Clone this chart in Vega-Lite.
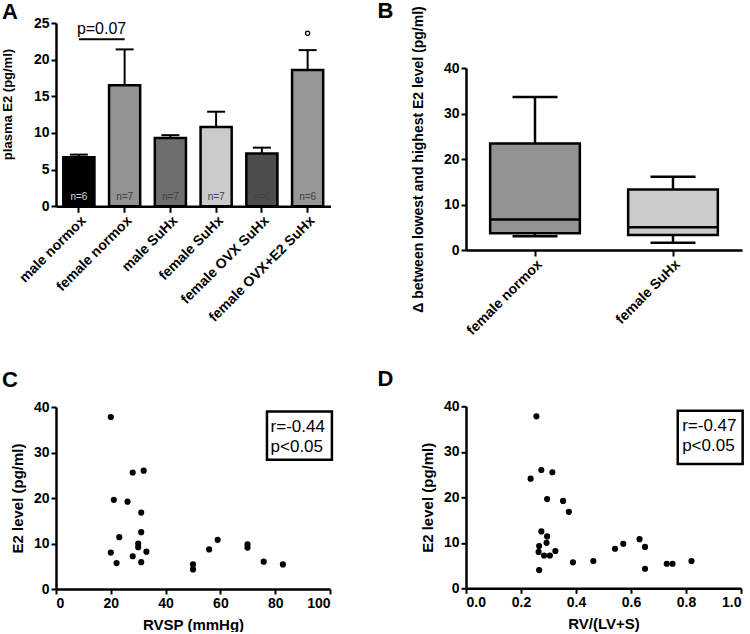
{
  "$schema": "https://vega.github.io/schema/vega-lite/v6.json",
  "background": "white",
  "padding": {"left": 1, "top": 0, "right": 0, "bottom": 0},
  "datasets": {
    "bars": [
      {"group": "male normox", "mean": 6.7, "upper": 7.05, "n": "n=6"},
      {"group": "female normox", "mean": 16.5, "upper": 21.4, "n": "n=7"},
      {"group": "male SuHx", "mean": 9.3, "upper": 9.7, "n": "n=7"},
      {"group": "female SuHx", "mean": 10.8, "upper": 12.9, "n": "n=7"},
      {"group": "female OVX SuHx", "mean": 7.2, "upper": 8.0, "n": "n=6"},
      {"group": "female OVX+E2 SuHx", "mean": 18.6, "upper": 21.3, "n": "n=6"}
    ],
    "bracketA": [
      {"group": "male normox", "end": "female normox", "y": 22.8, "label": "p=0.07"}
    ],
    "markA": [
      {"group": "female OVX+E2 SuHx", "y": 23.6}
    ],
    "boxes": [
      {"group": "female normox", "min": 3.0, "q1": 3.7, "median": 6.7, "q3": 23.4, "max": 33.6},
      {"group": "female SuHx", "min": 1.6, "q1": 3.3, "median": 5.0, "q3": 13.3, "max": 16.1}
    ],
    "corrC": [
      {"rvsp": 20.0, "e2": 37.8}, {"rvsp": 21.1, "e2": 19.6}, {"rvsp": 26.1, "e2": 19.2},
      {"rvsp": 28.0, "e2": 25.6}, {"rvsp": 32.0, "e2": 26.0}, {"rvsp": 31.1, "e2": 16.8},
      {"rvsp": 31.1, "e2": 12.5}, {"rvsp": 23.1, "e2": 11.4}, {"rvsp": 30.0, "e2": 10.0},
      {"rvsp": 30.0, "e2": 9.2}, {"rvsp": 20.0, "e2": 8.0}, {"rvsp": 28.0, "e2": 7.2},
      {"rvsp": 33.0, "e2": 8.2}, {"rvsp": 22.1, "e2": 5.7}, {"rvsp": 31.1, "e2": 5.9},
      {"rvsp": 50.0, "e2": 5.4}, {"rvsp": 50.0, "e2": 4.3}, {"rvsp": 55.9, "e2": 8.7},
      {"rvsp": 59.0, "e2": 10.8}, {"rvsp": 69.9, "e2": 9.8}, {"rvsp": 69.9, "e2": 9.1},
      {"rvsp": 75.8, "e2": 6.0}, {"rvsp": 82.8, "e2": 5.4}
    ],
    "corrD": [
      {"ratio": 0.256, "e2": 37.8}, {"ratio": 0.235, "e2": 24.1}, {"ratio": 0.274, "e2": 26.0},
      {"ratio": 0.314, "e2": 25.5}, {"ratio": 0.295, "e2": 19.6}, {"ratio": 0.353, "e2": 19.2},
      {"ratio": 0.374, "e2": 16.8}, {"ratio": 0.274, "e2": 12.5}, {"ratio": 0.295, "e2": 11.4},
      {"ratio": 0.266, "e2": 9.3}, {"ratio": 0.293, "e2": 10.0}, {"ratio": 0.264, "e2": 8.0},
      {"ratio": 0.284, "e2": 7.2}, {"ratio": 0.305, "e2": 7.2}, {"ratio": 0.325, "e2": 8.2},
      {"ratio": 0.266, "e2": 4.0}, {"ratio": 0.389, "e2": 5.7}, {"ratio": 0.463, "e2": 6.0},
      {"ratio": 0.542, "e2": 8.7}, {"ratio": 0.572, "e2": 9.8}, {"ratio": 0.631, "e2": 10.8},
      {"ratio": 0.651, "e2": 9.1}, {"ratio": 0.651, "e2": 4.3}, {"ratio": 0.730, "e2": 5.4},
      {"ratio": 0.751, "e2": 5.4}, {"ratio": 0.820, "e2": 6.0}
    ],
    "boxC": [{"x1": 77, "x2": 100.7, "y1": 28.4, "y2": 39.0}],
    "textC": [{"x": 78.3, "y": 34.5, "label": "r=-0.44"}, {"x": 78.3, "y": 30.1, "label": "p<0.05"}],
    "boxD": [{"x1": 0.770, "x2": 1.006, "y1": 27.3, "y2": 39.0}],
    "textD": [{"x": 0.786, "y": 34.5, "label": "r=-0.47"}, {"x": 0.786, "y": 30.1, "label": "p<0.05"}]
  },
  "bounds": "flush",
  "spacing": 410,
  "hconcat": [
    {
      "bounds": "flush",
      "spacing": 200,
      "vconcat": [
        {
          "width": 274.5,
          "height": 183.3,
          "title": {"text": "A", "dx": -54, "dy": 11.6},
          "encoding": {
            "x": {
              "field": "group",
              "type": "nominal",
              "scale": {
                "domain": ["male normox", "female normox", "male SuHx", "female SuHx", "female OVX SuHx", "female OVX+E2 SuHx"],
                "paddingInner": 0.32,
                "paddingOuter": 0.16
              },
              "axis": {"title": null, "labelAngle": -45, "tickSize": 6, "labelPadding": 1}
            }
          },
          "layer": [
            {
              "data": {"name": "bars"},
              "mark": {"type": "rule", "color": "black", "strokeWidth": 2},
              "encoding": {
                "y": {
                  "field": "mean",
                  "type": "quantitative",
                  "scale": {"domain": [0, 25], "nice": false},
                  "axis": {"title": "plasma E2  (pg/ml)", "values": [0, 5, 10, 15, 20, 25], "titlePadding": 19, "titleY": 81}
                },
                "y2": {"field": "upper"}
              }
            },
            {
              "data": {"name": "bars"},
              "mark": {"type": "tick", "color": "black", "size": 18, "thickness": 2, "opacity": 1},
              "encoding": {
                "y": {
                  "field": "upper",
                  "type": "quantitative",
                  "axis": {"title": "plasma E2  (pg/ml)", "values": [0, 5, 10, 15, 20, 25], "titlePadding": 19, "titleY": 81}
                }
              }
            },
            {
              "data": {"name": "bars"},
              "mark": {"type": "bar", "stroke": "black", "strokeWidth": 2.5},
              "encoding": {
                "y": {
                  "field": "mean",
                  "type": "quantitative",
                  "axis": {"title": "plasma E2  (pg/ml)", "values": [0, 5, 10, 15, 20, 25], "titlePadding": 19, "titleY": 81}
                },
                "color": {
                  "field": "group",
                  "type": "nominal",
                  "scale": {
                    "domain": ["male normox", "female normox", "male SuHx", "female SuHx", "female OVX SuHx", "female OVX+E2 SuHx"],
                    "range": ["#000000", "#939393", "#6e6e6e", "#cbcbcb", "#4d4d4d", "#979797"]
                  },
                  "legend": null
                }
              }
            },
            {
              "data": {"name": "bars"},
              "mark": {"type": "text", "fontSize": 10, "baseline": "alphabetic", "dy": -6},
              "encoding": {
                "y": {
                  "datum": 0,
                  "type": "quantitative",
                  "axis": {"title": "plasma E2  (pg/ml)", "values": [0, 5, 10, 15, 20, 25], "titlePadding": 19, "titleY": 81}
                },
                "text": {"field": "n"},
                "color": {"condition": {"test": "datum.group === 'male normox'", "value": "#d9d9d9"}, "value": "#404040"}
              }
            },
            {
              "data": {"name": "bracketA"},
              "mark": {"type": "rule", "color": "black", "strokeWidth": 2},
              "encoding": {
                "x2": {"field": "end"},
                "y": {
                  "field": "y",
                  "type": "quantitative",
                  "axis": {"title": "plasma E2  (pg/ml)", "values": [0, 5, 10, 15, 20, 25], "titlePadding": 19, "titleY": 81}
                }
              }
            },
            {
              "data": {"name": "bracketA"},
              "mark": {"type": "text", "align": "left", "baseline": "alphabetic", "fontSize": 16, "dx": -2, "dy": -5, "color": "black"},
              "encoding": {
                "y": {
                  "field": "y",
                  "type": "quantitative",
                  "axis": {"title": "plasma E2  (pg/ml)", "values": [0, 5, 10, 15, 20, 25], "titlePadding": 19, "titleY": 81}
                },
                "text": {"field": "label"}
              }
            },
            {
              "data": {"name": "markA"},
              "mark": {"type": "point", "shape": "circle", "filled": false, "stroke": "black", "strokeWidth": 1.2, "size": 18, "opacity": 1},
              "encoding": {
                "y": {
                  "field": "y",
                  "type": "quantitative",
                  "axis": {"title": "plasma E2  (pg/ml)", "values": [0, 5, 10, 15, 20, 25], "titlePadding": 19, "titleY": 81}
                }
              }
            }
          ]
        },
        {
          "width": 274,
          "height": 182,
          "title": {"text": "C", "dx": -54, "dy": -4},
          "layer": [
            {
              "data": {"name": "corrC"},
              "mark": {"type": "point", "filled": true, "color": "black", "size": 38, "opacity": 1},
              "encoding": {
                "x": {
                  "field": "rvsp",
                  "type": "quantitative",
                  "scale": {"domain": [0, 100], "nice": false},
                  "axis": {"title": "RVSP (mmHg)", "values": [0, 20, 40, 60, 80, 100], "titlePadding": 7, "titleFontSize": 15}
                },
                "y": {
                  "field": "e2",
                  "type": "quantitative",
                  "scale": {"domain": [0, 40], "nice": false},
                  "axis": {"title": "E2 level (pg/ml)", "values": [0, 10, 20, 30, 40], "titlePadding": 8, "titleFontSize": 15}
                }
              }
            },
            {
              "data": {"name": "boxC"},
              "mark": {"type": "rect", "fill": "white", "stroke": "black", "strokeWidth": 2.5},
              "encoding": {
                "x": {"field": "x1", "type": "quantitative"},
                "x2": {"field": "x2"},
                "y": {"field": "y1", "type": "quantitative"},
                "y2": {"field": "y2"}
              }
            },
            {
              "data": {"name": "textC"},
              "mark": {"type": "text", "align": "left", "baseline": "alphabetic", "fontSize": 17, "color": "black"},
              "encoding": {
                "x": {"field": "x", "type": "quantitative"},
                "y": {"field": "y", "type": "quantitative"},
                "text": {"field": "label"}
              }
            }
          ]
        }
      ]
    },
    {
      "bounds": "flush",
      "spacing": 44,
      "vconcat": [
        {
          "width": 276,
          "height": 1,
          "data": {"values": []},
          "mark": {"type": "point", "opacity": 0}
        },
        {
          "bounds": "flush",
          "spacing": 156.3,
          "vconcat": [
            {
              "width": 276,
              "height": 182,
              "title": {"text": "B", "dx": -88.5, "dy": 21.7},
              "data": {"name": "boxes"},
              "encoding": {
                "x": {
                  "field": "group",
                  "type": "nominal",
                  "scale": {"domain": ["female normox", "female SuHx"], "paddingInner": 0.35, "paddingOuter": 0.175},
                  "axis": {"title": null, "labelAngle": -45, "tickSize": 6, "labelPadding": 1}
                }
              },
              "layer": [
                {
                  "mark": {"type": "rule", "color": "black", "strokeWidth": 2.5},
                  "encoding": {
                    "y": {
                      "field": "min",
                      "type": "quantitative",
                      "scale": {"domain": [0, 40], "nice": false},
                      "axis": {"title": "Δ between lowest and highest E2 level (pg/ml)", "values": [0, 10, 20, 30, 40], "titlePadding": 18, "titleFontSize": 14}
                    },
                    "y2": {"field": "max"}
                  }
                },
                {
                  "mark": {"type": "tick", "color": "black", "size": 45, "thickness": 2.5, "opacity": 1},
                  "encoding": {"y": {"field": "min", "type": "quantitative"}}
                },
                {
                  "mark": {"type": "tick", "color": "black", "size": 45, "thickness": 2.5, "opacity": 1},
                  "encoding": {"y": {"field": "max", "type": "quantitative"}}
                },
                {
                  "mark": {"type": "bar", "stroke": "black", "strokeWidth": 2.5},
                  "encoding": {
                    "y": {"field": "q1", "type": "quantitative"},
                    "y2": {"field": "q3"},
                    "color": {
                      "field": "group",
                      "type": "nominal",
                      "scale": {"domain": ["female normox", "female SuHx"], "range": ["#999999", "#cccccc"]},
                      "legend": null
                    }
                  }
                },
                {
                  "mark": {"type": "tick", "color": "black", "size": 89, "thickness": 2.5, "opacity": 1},
                  "encoding": {"y": {"field": "median", "type": "quantitative"}}
                }
              ]
            },
            {
              "width": 275,
              "height": 182,
              "title": {"text": "D", "dx": -88.5, "dy": -4},
              "layer": [
                {
                  "data": {"name": "corrD"},
                  "mark": {"type": "point", "filled": true, "color": "black", "size": 38, "opacity": 1},
                  "encoding": {
                    "x": {
                      "field": "ratio",
                      "type": "quantitative",
                      "scale": {"domain": [0, 1], "nice": false},
                      "axis": {"title": "RV/(LV+S)", "values": [0, 0.2, 0.4, 0.6, 0.8, 1.0], "format": ".1f", "titlePadding": 7, "titleFontSize": 15}
                    },
                    "y": {
                      "field": "e2",
                      "type": "quantitative",
                      "scale": {"domain": [0, 40], "nice": false},
                      "axis": {"title": "E2 level (pg/ml)", "values": [0, 10, 20, 30, 40], "titlePadding": 8, "titleFontSize": 15}
                    }
                  }
                },
                {
                  "data": {"name": "boxD"},
                  "mark": {"type": "rect", "fill": "white", "stroke": "black", "strokeWidth": 2.5},
                  "encoding": {
                    "x": {"field": "x1", "type": "quantitative"},
                    "x2": {"field": "x2"},
                    "y": {"field": "y1", "type": "quantitative"},
                    "y2": {"field": "y2"}
                  }
                },
                {
                  "data": {"name": "textD"},
                  "mark": {"type": "text", "align": "left", "baseline": "alphabetic", "fontSize": 17, "color": "black"},
                  "encoding": {
                    "x": {"field": "x", "type": "quantitative"},
                    "y": {"field": "y", "type": "quantitative"},
                    "text": {"field": "label"}
                  }
                }
              ]
            }
          ]
        }
      ]
    }
  ],
  "config": {
    "view": {"stroke": null},
    "font": "Liberation Sans",
    "axis": {
      "grid": false,
      "domainColor": "black",
      "domainWidth": 2.5,
      "tickColor": "black",
      "tickWidth": 2,
      "tickSize": 5,
      "labelFont": "Liberation Sans",
      "labelFontSize": 14,
      "labelFontWeight": "bold",
      "labelColor": "black",
      "labelPadding": 2,
      "titleFont": "Liberation Sans",
      "titleFontSize": 13,
      "titleFontWeight": "bold",
      "titleColor": "black"
    },
    "title": {"font": "Liberation Sans", "fontSize": 22, "fontWeight": "bold", "anchor": "start", "frame": "group", "color": "black", "offset": 0, "baseline": "top"}
  }
}
